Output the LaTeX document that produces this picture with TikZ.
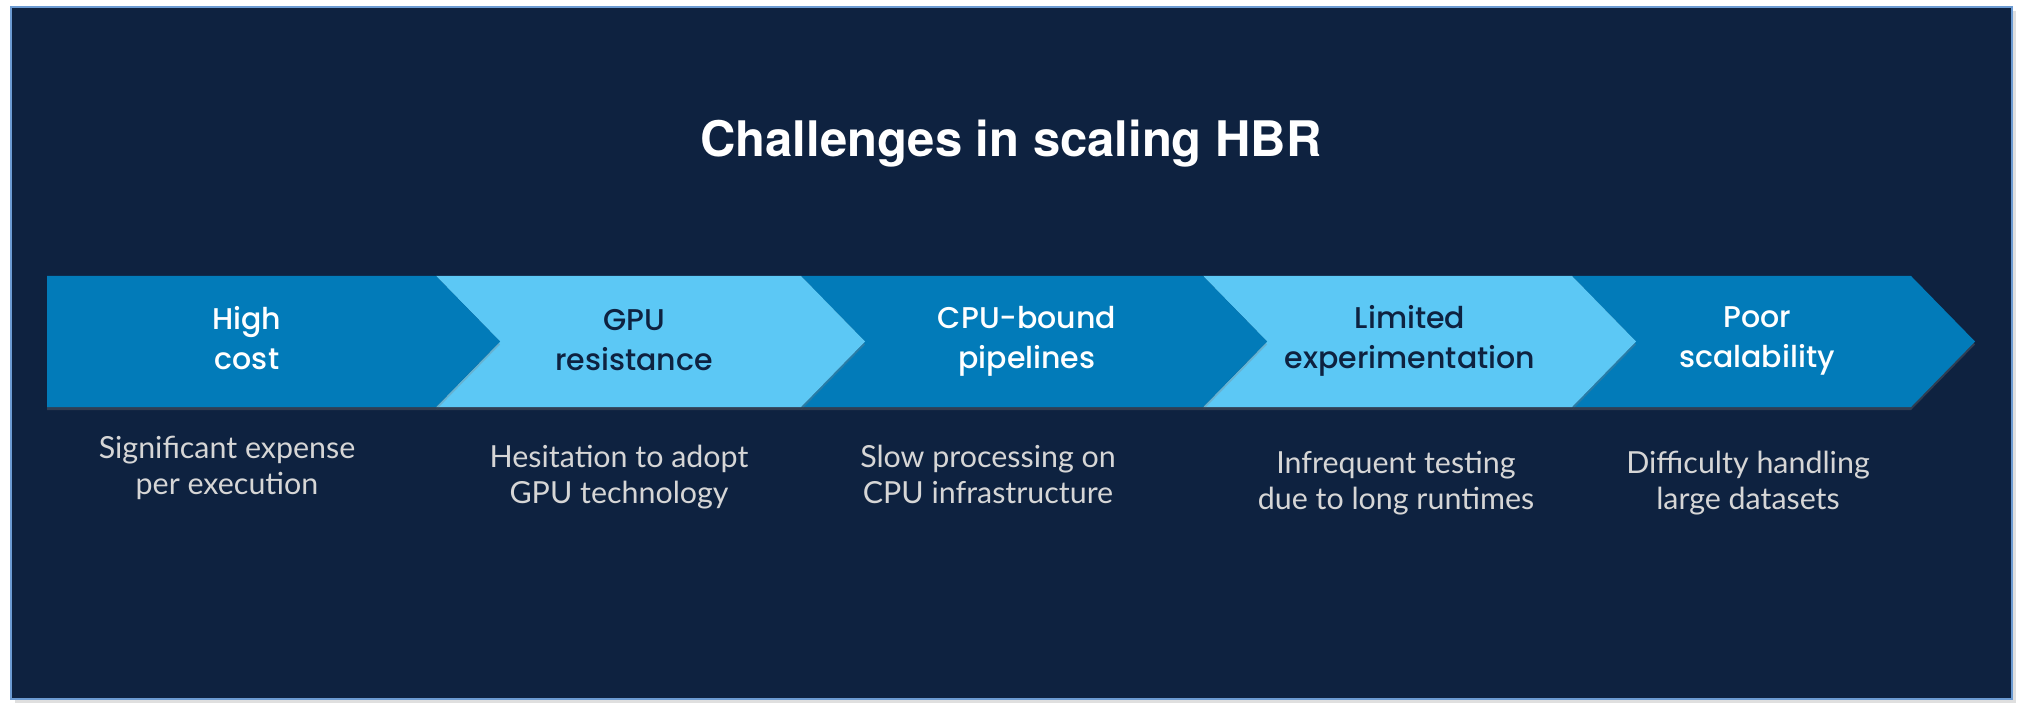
\documentclass[tikz,border=0pt]{standalone}
\usepackage{fontspec}
\setmainfont{Lato}
\newfontfamily\labelfont{Poppins Medium}
\newfontfamily\titlefont{TeX Gyre Heros}
\usetikzlibrary{shadows}
\usepackage{xcolor}
\definecolor{bgnavy}{RGB}{14,34,64}
\definecolor{cdark}{RGB}{2,123,185}
\definecolor{clight}{RGB}{92,200,245}
\definecolor{frameblue}{RGB}{108,155,210}
\definecolor{descgray}{RGB}{214,214,214}

\begin{document}
\begin{tikzpicture}[x=0.5pt, y=-0.5pt,
  chev/.style={drop shadow={opacity=0.3,shadow xshift=0pt,shadow yshift=-1.5pt}},
  lbl/.style={font=\labelfont\fontsize{15}{20}\selectfont,align=center,anchor=north,inner sep=0pt},
  desc/.style={font=\fontsize{15.2}{18}\selectfont,text=descgray,align=center,anchor=north,inner sep=0pt}
]
  \useasboundingbox (0,0) rectangle (2022,716);
  \fill[white] (0,0) rectangle (2022,716);
  \draw[frameblue,fill=bgnavy,line width=1pt,
    drop shadow={opacity=0.25,shadow xshift=2pt,shadow yshift=-2pt}] (11,7) rectangle (2012,699);

  \node[text=white,font=\titlefont\bfseries\fontsize{24.5}{28}\selectfont,anchor=base] (title) at (1011,157) {Challenges in scaling HBR};

  % chevrons, drawn last to first so each one sits on the next
  \foreach \xs/\xe/\nd/\col in {1572/1911/64/cdark, 1203/1572/64/clight, 801/1203/64/cdark, 436/801/64/clight, 47/436/0/cdark}
    \fill[\col,chev] (\xs,276) -- (\xe,276) -- ({\xe+64},341.5) -- (\xe,407) -- (\xs,407) -- ({\xs+\nd},341.5) -- cycle;

  \node[lbl,text=white]  (cost)   at (247,306)  {High\\cost};
  \node[lbl,text=bgnavy] (gpu)    at (634,309)  {GPU\\resistance};
  \node[lbl,text=white]  (cpu)    at (1027,306) {CPU-bound\\pipelines};
  \node[lbl,text=bgnavy] (exper)  at (1410,305) {Limited\\experimentation};
  \node[lbl,text=white]  (scale)  at (1757,306) {Poor\\scalability};

  \node[desc] (costd)  at (227,436)  {Significant expense\\per execution};
  \node[desc] (gpud)   at (619,445)  {Hesitation to adopt\\GPU technology};
  \node[desc] (cpud)   at (988,445)  {Slow processing on\\CPU infrastructure};
  \node[desc] (experd) at (1396,451) {Infrequent testing\\due to long runtimes};
  \node[desc] (scaled) at (1748,451) {Difficulty handling\\large datasets};
\end{tikzpicture}
\end{document}
